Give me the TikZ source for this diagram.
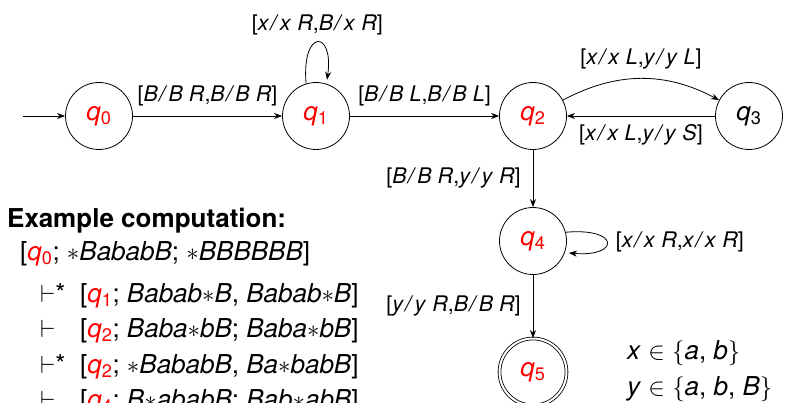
\documentclass[tikz,border=0pt]{standalone}
\usepackage{fontspec}
\setmainfont{TeX Gyre Heros}
\usetikzlibrary{arrows.meta}
\newcommand{\qq}[1]{\textcolor{red}{\textit{q}\textsubscript{#1}}}
\newcommand{\tr}[3]{\textit{#1}\kern1.2pt\textit{/}\kern1.2pt\textit{#2}\ \textit{#3}}
\newcommand{\st}{$\ast$}
\begin{document}
\begin{tikzpicture}[x=1pt,y=1pt,
  >={Stealth[length=8pt,width=6pt,inset=2.5pt]},
  state/.style={draw,circle,minimum size=67pt,inner sep=0pt,line width=0.8pt,font=\fontsize{26}{30}\selectfont},
  elab/.style={font=\fontsize{21.5}{24}\selectfont,inner sep=0pt},
  big/.style={font=\fontsize{26}{30}\selectfont,inner sep=0pt,anchor=base west},
  conn/.style={draw,line width=0.8pt,->}]
\useasboundingbox (0,0) rectangle (789,402);
\node[state] (q0) at (99,286) {\qq{0}};
\node[state] (q1) at (316,286) {\qq{1}};
\node[state] (q2) at (533,286) {\qq{2}};
\node[state] (q3) at (749,286) {\textit{q}\textsubscript{3}};
\node[state] (q4) at (533,161) {\qq{4}};
\node[state,double,double distance=2pt] (q5) at (533,30) {\qq{5}};
\coordinate (start) at (23,286);
\path[conn] (start) -- (q0);
\path[conn] (q0) -- node[elab,above=10pt] (l01) {[\tr{B}{B}{R},\tr{B}{B}{R}]} (q1);
\path[conn,shorten >=4pt] (q1.107) .. controls +(95:55) and +(82:55) .. node[elab,above=7pt] (l11) {[\tr{x}{x}{R},\tr{B}{x}{R}]} (q1.72);
\path[conn] (q1) -- node[elab,above=10pt] (l12) {[\tr{B}{B}{L},\tr{B}{B}{L}]} (q2);
\path[conn] (q2) to[bend left=28] node[elab,above=9pt] (l23) {[\tr{x}{x}{L},\tr{y}{y}{L}]} (q3);
\path[conn] (q3) -- node[elab,below=8pt] (l32) {[\tr{x}{x}{L},\tr{y}{y}{S}]} (q2);
\path[conn] (q2) -- node[elab,left=12pt] (l24) {[\tr{B}{B}{R},\tr{y}{y}{R}]} (q4);
\path[conn,shorten >=4pt] (q4.15) .. controls +(5:55) and +(-5:55) .. node[elab,right=9pt] (l44) {[\tr{x}{x}{R},\tr{x}{x}{R}]} (q4.-20);
\path[conn] (q4) -- node[elab,left=12pt] (l45) {[\tr{y}{y}{R},\tr{B}{B}{R}]} (q5);
\node[big] (xset) at (627,43) {\textit{x} $\in$ $\{$\textit{a}, \textit{b}$\}$};
\node[big] (yset) at (627,7) {\textit{y} $\in$ $\{$\textit{a}, \textit{b}, \textit{B}$\}$};
\node[big,font=\fontsize{26}{30}\selectfont\bfseries] (ex) at (7,175) {Example computation:};
\node[big] (c0) at (20,142) {[\qq{0}; \st\textit{BababB}; \st\textit{BBBBBB}]};
\node[big] (t1) at (40,100) {$\vdash$*};
\node[big] (c1) at (80,100) {[\qq{1}; \textit{Babab}\st\textit{B}, \textit{Babab}\st\textit{B}]};
\node[big] (t2) at (40,65) {$\vdash$};
\node[big] (c2) at (80,65) {[\qq{2}; \textit{Baba}\st\textit{bB}; \textit{Baba}\st\textit{bB}]};
\node[big] (t3) at (40,29) {$\vdash$*};
\node[big] (c3) at (80,29) {[\qq{2}; \st\textit{BababB}, \textit{Ba}\st\textit{babB}]};
\node[big] (t4) at (40,-6) {$\vdash$};
\node[big] (c4) at (80,-6) {[\qq{4}; \textit{B}\st\textit{ababB}; \textit{Bab}\st\textit{abB}]};
\end{tikzpicture}
\end{document}
